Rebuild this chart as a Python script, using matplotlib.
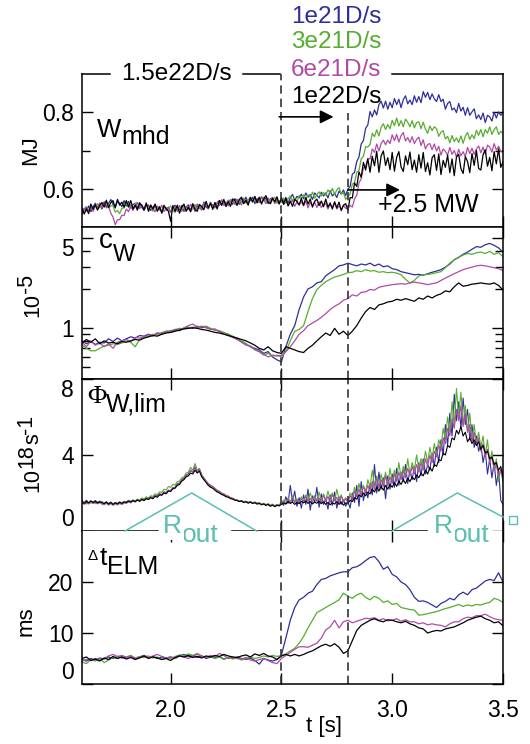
import numpy as np
import matplotlib
matplotlib.use("Agg")
import matplotlib.pyplot as plt
from matplotlib.lines import Line2D
from matplotlib.text import Annotation
from matplotlib.ticker import NullFormatter

plt.rcParams['font.family'] = ['Liberation Sans', 'DejaVu Sans']

# sample times: fine for the noisy traces, coarse for the smoothed ones
t_fine = np.linspace(1.6, 3.5, 191)
t_coarse = np.linspace(1.6, 3.5, 96)

# W_mhd [MJ]
wmhd_blue = [
    0.535, 0.549, 0.542, 0.555, 0.540, 0.553, 0.562, 0.550, 0.561, 0.547,
    0.566, 0.553, 0.562, 0.572, 0.559, 0.553, 0.567, 0.562, 0.553, 0.569,
    0.555, 0.567, 0.549, 0.559, 0.562, 0.549, 0.564, 0.551, 0.543, 0.557,
    0.557, 0.543, 0.551, 0.558, 0.544, 0.552, 0.539, 0.555, 0.544, 0.549,
    0.539, 0.552, 0.557, 0.543, 0.546, 0.556, 0.541, 0.551, 0.558, 0.544,
    0.557, 0.541, 0.553, 0.558, 0.547, 0.565, 0.552, 0.548, 0.562, 0.557,
    0.551, 0.563, 0.569, 0.556, 0.564, 0.553, 0.570, 0.566, 0.559, 0.574,
    0.569, 0.559, 0.574, 0.566, 0.578, 0.563, 0.570, 0.578, 0.561, 0.574,
    0.565, 0.579, 0.569, 0.576, 0.561, 0.573, 0.577, 0.565, 0.570, 0.561,
    0.576, 0.566, 0.577, 0.563, 0.576, 0.585, 0.570, 0.580, 0.576, 0.586,
    0.574, 0.589, 0.578, 0.585, 0.572, 0.589, 0.583, 0.576, 0.591, 0.581,
    0.589, 0.576, 0.595, 0.581, 0.588, 0.577, 0.594, 0.586, 0.597, 0.582,
    0.599, 0.606, 0.638, 0.643, 0.671, 0.683, 0.717, 0.726, 0.758, 0.767,
    0.802, 0.788, 0.806, 0.793, 0.820, 0.829, 0.811, 0.829, 0.808, 0.826,
    0.812, 0.836, 0.820, 0.834, 0.812, 0.833, 0.843, 0.822, 0.832, 0.820,
    0.843, 0.826, 0.841, 0.825, 0.854, 0.839, 0.852, 0.833, 0.848, 0.835,
    0.828, 0.846, 0.828, 0.834, 0.808, 0.823, 0.828, 0.806, 0.811, 0.799,
    0.823, 0.803, 0.813, 0.792, 0.812, 0.792, 0.801, 0.809, 0.783, 0.793,
    0.781, 0.798, 0.773, 0.792, 0.788, 0.777, 0.800, 0.785, 0.801, 0.792,
    0.800]
wmhd_green = [
    0.543, 0.536, 0.552, 0.543, 0.553, 0.542, 0.554, 0.561, 0.550, 0.560,
    0.554, 0.565, 0.550, 0.555, 0.556, 0.539, 0.543, 0.535, 0.549, 0.550,
    0.562, 0.551, 0.558, 0.548, 0.561, 0.564, 0.550, 0.556, 0.545, 0.560,
    0.545, 0.554, 0.541, 0.556, 0.547, 0.553, 0.540, 0.557, 0.544, 0.548,
    0.555, 0.544, 0.538, 0.553, 0.549, 0.541, 0.557, 0.543, 0.553, 0.541,
    0.548, 0.559, 0.545, 0.556, 0.544, 0.561, 0.557, 0.551, 0.565, 0.550,
    0.564, 0.551, 0.563, 0.570, 0.558, 0.556, 0.569, 0.563, 0.575, 0.560,
    0.557, 0.572, 0.564, 0.576, 0.562, 0.571, 0.578, 0.565, 0.573, 0.562,
    0.574, 0.563, 0.578, 0.568, 0.576, 0.561, 0.572, 0.578, 0.562, 0.569,
    0.564, 0.576, 0.562, 0.574, 0.581, 0.568, 0.576, 0.566, 0.582, 0.576,
    0.584, 0.572, 0.584, 0.578, 0.591, 0.575, 0.585, 0.592, 0.581, 0.590,
    0.583, 0.597, 0.588, 0.601, 0.585, 0.597, 0.603, 0.586, 0.590, 0.572,
    0.580, 0.586, 0.612, 0.616, 0.643, 0.648, 0.678, 0.685, 0.710, 0.709,
    0.716, 0.745, 0.736, 0.754, 0.738, 0.761, 0.770, 0.755, 0.768, 0.757,
    0.779, 0.765, 0.785, 0.764, 0.778, 0.762, 0.782, 0.774, 0.762, 0.778,
    0.759, 0.773, 0.775, 0.757, 0.774, 0.756, 0.745, 0.764, 0.752, 0.762,
    0.757, 0.737, 0.748, 0.752, 0.730, 0.737, 0.720, 0.739, 0.723, 0.733,
    0.721, 0.738, 0.719, 0.737, 0.747, 0.729, 0.741, 0.731, 0.753, 0.740,
    0.755, 0.736, 0.755, 0.745, 0.762, 0.742, 0.755, 0.762, 0.742, 0.750,
    0.745]
wmhd_magenta = [
    0.533, 0.547, 0.553, 0.542, 0.550, 0.541, 0.558, 0.551, 0.563, 0.550,
    0.563, 0.550, 0.554, 0.536, 0.526, 0.506, 0.519, 0.519, 0.531, 0.530,
    0.547, 0.540, 0.556, 0.543, 0.555, 0.563, 0.548, 0.557, 0.544, 0.559,
    0.546, 0.558, 0.548, 0.540, 0.555, 0.544, 0.557, 0.540, 0.549, 0.552,
    0.538, 0.550, 0.554, 0.541, 0.556, 0.546, 0.540, 0.554, 0.545, 0.559,
    0.554, 0.543, 0.560, 0.549, 0.545, 0.560, 0.556, 0.547, 0.564, 0.553,
    0.550, 0.565, 0.556, 0.571, 0.557, 0.566, 0.555, 0.572, 0.567, 0.560,
    0.573, 0.564, 0.558, 0.573, 0.569, 0.562, 0.577, 0.565, 0.579, 0.568,
    0.564, 0.578, 0.572, 0.561, 0.575, 0.567, 0.576, 0.561, 0.572, 0.563,
    0.573, 0.560, 0.573, 0.557, 0.564, 0.570, 0.554, 0.565, 0.557, 0.566,
    0.556, 0.568, 0.550, 0.564, 0.556, 0.565, 0.551, 0.566, 0.551, 0.559,
    0.562, 0.547, 0.559, 0.551, 0.563, 0.547, 0.555, 0.545, 0.557, 0.549,
    0.547, 0.557, 0.552, 0.574, 0.583, 0.615, 0.626, 0.654, 0.659, 0.679,
    0.678, 0.704, 0.695, 0.717, 0.699, 0.718, 0.727, 0.715, 0.727, 0.718,
    0.741, 0.726, 0.742, 0.722, 0.739, 0.747, 0.725, 0.734, 0.721, 0.736,
    0.718, 0.729, 0.735, 0.713, 0.728, 0.704, 0.716, 0.718, 0.702, 0.717,
    0.699, 0.711, 0.688, 0.704, 0.698, 0.688, 0.708, 0.690, 0.700, 0.683,
    0.703, 0.686, 0.697, 0.684, 0.708, 0.692, 0.706, 0.690, 0.704, 0.712,
    0.694, 0.709, 0.691, 0.714, 0.709, 0.696, 0.718, 0.701, 0.711, 0.697,
    0.700]
wmhd_black = [
    0.549, 0.534, 0.548, 0.535, 0.560, 0.547, 0.558, 0.544, 0.557, 0.564,
    0.552, 0.570, 0.551, 0.564, 0.569, 0.550, 0.572, 0.557, 0.565, 0.552,
    0.569, 0.553, 0.569, 0.547, 0.557, 0.544, 0.562, 0.557, 0.545, 0.563,
    0.541, 0.557, 0.547, 0.560, 0.541, 0.553, 0.536, 0.556, 0.548, 0.541,
    0.515, 0.556, 0.541, 0.557, 0.536, 0.552, 0.560, 0.541, 0.552, 0.540,
    0.561, 0.546, 0.541, 0.559, 0.554, 0.545, 0.567, 0.550, 0.562, 0.546,
    0.564, 0.547, 0.569, 0.558, 0.572, 0.555, 0.566, 0.554, 0.572, 0.570,
    0.557, 0.572, 0.578, 0.561, 0.570, 0.557, 0.577, 0.566, 0.580, 0.564,
    0.578, 0.560, 0.573, 0.582, 0.565, 0.561, 0.575, 0.566, 0.579, 0.560,
    0.576, 0.559, 0.576, 0.555, 0.568, 0.554, 0.572, 0.567, 0.558, 0.575,
    0.556, 0.577, 0.560, 0.573, 0.552, 0.567, 0.573, 0.556, 0.568, 0.553,
    0.573, 0.552, 0.563, 0.547, 0.566, 0.550, 0.565, 0.543, 0.557, 0.561,
    0.544, 0.577, 0.576, 0.615, 0.606, 0.644, 0.630, 0.669, 0.649, 0.678,
    0.643, 0.685, 0.660, 0.698, 0.643, 0.686, 0.699, 0.661, 0.681, 0.650,
    0.695, 0.646, 0.682, 0.697, 0.657, 0.645, 0.686, 0.663, 0.696, 0.650,
    0.675, 0.643, 0.689, 0.654, 0.695, 0.645, 0.668, 0.636, 0.681, 0.689,
    0.648, 0.691, 0.637, 0.674, 0.656, 0.688, 0.642, 0.678, 0.634, 0.683,
    0.690, 0.653, 0.640, 0.684, 0.671, 0.642, 0.692, 0.661, 0.700, 0.653,
    0.649, 0.689, 0.702, 0.659, 0.682, 0.647, 0.697, 0.665, 0.704, 0.656,
    0.670]

# c_W [1e-5]
cw_blue = [
    0.80, 0.76, 0.79, 0.75, 0.78, 0.77, 0.83, 0.79, 0.84, 0.80,
    0.83, 0.86, 0.84, 0.88, 0.87, 0.90, 0.88, 0.92, 0.91, 0.94,
    0.93, 0.97, 0.96, 1.00, 1.02, 1.00, 1.04, 1.01, 1.03, 0.99,
    0.97, 0.95, 0.91, 0.90, 0.86, 0.84, 0.79, 0.76, 0.72, 0.70,
    0.68, 0.64, 0.66, 0.60, 0.57, 0.55, 0.72, 0.90, 1.05, 1.40,
    1.75, 2.02, 2.10, 2.25, 2.30, 2.55, 2.70, 2.85, 3.05, 3.10,
    3.20, 3.12, 3.05, 3.15, 3.10, 3.20, 3.05, 3.15, 3.00, 3.05,
    2.90, 2.85, 2.75, 2.70, 2.65, 2.60, 2.62, 2.58, 2.65, 2.72,
    2.78, 2.85, 2.98, 3.15, 3.40, 3.55, 3.75, 3.90, 4.10, 4.30,
    4.25, 4.45, 4.55, 4.40, 4.20, 3.90]
cw_green = [
    0.74, 0.70, 0.67, 0.67, 0.70, 0.73, 0.74, 0.76, 0.75, 0.77,
    0.80, 0.78, 0.72, 0.82, 0.85, 0.86, 0.90, 0.89, 0.93, 0.95,
    0.96, 0.98, 1.00, 0.99, 1.01, 1.02, 1.01, 1.03, 1.04, 1.00,
    0.97, 0.96, 0.93, 0.90, 0.87, 0.82, 0.80, 0.76, 0.72, 0.68,
    0.66, 0.62, 0.64, 0.61, 0.62, 0.60, 0.66, 0.80, 0.95, 0.98,
    1.05, 1.35, 1.70, 2.00, 2.15, 2.30, 2.40, 2.50, 2.55, 2.62,
    2.70, 2.72, 2.80, 2.75, 2.85, 2.78, 2.80, 2.72, 2.75, 2.70,
    2.72, 2.68, 2.60, 2.40, 2.25, 2.35, 2.55, 2.60, 2.62, 2.65,
    2.70, 2.75, 2.95, 3.20, 3.40, 3.55, 3.70, 3.80, 3.75, 3.85,
    3.90, 3.80, 3.95, 3.75, 3.85, 3.60]
cw_magenta = [
    0.78, 0.72, 0.80, 0.74, 0.77, 0.72, 0.76, 0.70, 0.78, 0.80,
    0.82, 0.79, 0.85, 0.84, 0.86, 0.89, 0.87, 0.92, 0.90, 0.95,
    0.94, 0.98, 0.97, 1.01, 1.05, 1.08, 1.02, 1.04, 1.01, 0.98,
    0.99, 0.94, 0.91, 0.88, 0.85, 0.82, 0.78, 0.74, 0.73, 0.69,
    0.66, 0.63, 0.60, 0.62, 0.61, 0.62, 0.66, 0.72, 0.80, 0.90,
    0.96, 1.05, 1.10, 1.15, 1.22, 1.30, 1.40, 1.48, 1.55, 1.65,
    1.70, 1.82, 1.78, 1.90, 1.92, 2.00, 1.98, 2.08, 2.12, 2.15,
    2.18, 2.20, 2.22, 2.20, 2.25, 2.28, 2.25, 2.22, 2.18, 2.22,
    2.25, 2.35, 2.45, 2.55, 2.65, 2.75, 2.85, 2.92, 2.98, 3.05,
    3.08, 3.05, 3.00, 2.95, 2.90, 2.80]
cw_black = [
    0.77, 0.82, 0.78, 0.83, 0.76, 0.80, 0.77, 0.78, 0.76, 0.79,
    0.78, 0.80, 0.82, 0.81, 0.84, 0.86, 0.88, 0.87, 0.90, 0.92,
    0.93, 0.95, 0.97, 0.99, 1.00, 1.01, 1.00, 0.98, 0.97, 0.95,
    0.93, 0.92, 0.90, 0.88, 0.86, 0.84, 0.82, 0.80, 0.77, 0.74,
    0.70, 0.68, 0.72, 0.67, 0.65, 0.64, 0.72, 0.70, 0.68, 0.66,
    0.65, 0.70, 0.74, 0.80, 0.86, 0.92, 0.88, 1.00, 0.90, 0.95,
    0.88, 0.95, 1.05, 1.20, 1.35, 1.45, 1.40, 1.52, 1.55, 1.60,
    1.62, 1.68, 1.65, 1.70, 1.66, 1.62, 1.72, 1.68, 1.78, 1.72,
    1.80, 1.85, 1.95, 1.92, 2.10, 2.25, 2.12, 2.15, 2.20, 2.22,
    2.25, 2.22, 2.20, 2.25, 2.15, 1.98]

# Phi_W,lim [1e18 /s]
phi_blue = [
    1.60, 1.50, 1.62, 1.48, 1.58, 1.52, 1.60, 1.50, 1.57, 1.48,
    1.46, 1.54, 1.44, 1.52, 1.42, 1.50, 1.45, 1.53, 1.47, 1.55,
    1.52, 1.60, 1.55, 1.62, 1.57, 1.65, 1.60, 1.70, 1.64, 1.74,
    1.70, 1.80, 1.76, 1.88, 1.84, 1.96, 1.92, 2.06, 2.02, 2.15,
    2.12, 2.28, 2.30, 2.48, 2.52, 2.70, 2.78, 2.95, 3.00, 3.20,
    3.10, 3.35, 3.12, 3.25, 2.95, 2.78, 2.60, 2.45, 2.35, 2.28,
    2.20, 2.10, 2.05, 1.95, 1.92, 1.84, 1.80, 1.74, 1.70, 1.65,
    1.62, 1.58, 1.60, 1.52, 1.56, 1.50, 1.54, 1.48, 1.52, 1.45,
    1.48, 1.40, 1.45, 1.38, 1.42, 1.34, 1.40, 1.32, 1.38, 1.36,
    1.50, 1.35, 1.80, 1.45, 2.40, 1.55, 2.10, 1.30, 1.75, 1.20,
    1.90, 1.40, 2.20, 1.10, 1.85, 1.50, 2.30, 1.25, 1.95, 1.40,
    1.70, 1.15, 1.90, 1.35, 2.05, 1.20, 1.80, 1.40, 1.65, 1.30,
    1.55, 1.20, 2.00, 1.50, 2.40, 1.30, 2.60, 1.60, 2.20, 1.75,
    2.50, 1.90, 3.50, 2.00, 3.10, 2.20, 2.80, 1.70, 2.90, 2.20,
    3.00, 2.30, 3.30, 2.40, 3.10, 2.60, 3.50, 2.50, 3.20, 2.70,
    3.40, 2.60, 3.60, 2.90, 3.80, 3.00, 3.50, 3.20, 4.10, 3.40,
    4.40, 3.60, 4.80, 4.00, 5.60, 4.50, 6.20, 5.00, 7.20, 5.80,
    6.80, 5.40, 7.00, 5.60, 6.40, 4.80, 5.60, 4.40, 5.00, 4.20,
    4.60, 3.60, 4.20, 3.00, 3.80, 2.80, 3.60, 2.40, 3.20, 1.60,
    1.40]
phi_green = [
    1.45, 1.55, 1.42, 1.52, 1.46, 1.56, 1.44, 1.54, 1.47, 1.57,
    1.43, 1.52, 1.40, 1.50, 1.42, 1.49, 1.44, 1.52, 1.46, 1.55,
    1.50, 1.62, 1.54, 1.64, 1.58, 1.68, 1.62, 1.74, 1.68, 1.80,
    1.74, 1.86, 1.82, 1.96, 1.92, 2.06, 2.04, 2.20, 2.16, 2.34,
    2.30, 2.45, 2.42, 2.60, 2.62, 2.80, 2.85, 3.05, 3.10, 3.35,
    3.20, 3.55, 3.20, 3.30, 2.95, 2.80, 2.62, 2.48, 2.38, 2.30,
    2.22, 2.12, 2.08, 1.98, 1.94, 1.86, 1.82, 1.76, 1.72, 1.66,
    1.64, 1.58, 1.60, 1.53, 1.57, 1.50, 1.55, 1.48, 1.53, 1.46,
    1.50, 1.42, 1.46, 1.38, 1.44, 1.35, 1.41, 1.33, 1.40, 1.38,
    1.48, 1.62, 1.45, 1.75, 1.50, 1.85, 1.55, 1.70, 1.48, 1.80,
    1.55, 1.90, 1.60, 2.00, 1.65, 1.85, 1.55, 2.05, 1.60, 1.95,
    1.62, 2.10, 1.70, 2.00, 1.58, 2.20, 1.65, 1.90, 1.55, 1.75,
    1.60, 2.00, 1.75, 2.30, 1.85, 2.50, 1.95, 2.40, 2.05, 2.70,
    2.30, 3.20, 2.40, 2.90, 2.20, 3.00, 2.50, 3.10, 2.40, 3.30,
    2.60, 3.20, 2.70, 3.60, 2.80, 3.40, 2.90, 3.80, 3.00, 3.60,
    3.20, 4.00, 3.30, 3.80, 3.40, 4.20, 3.60, 4.40, 3.80, 4.60,
    4.00, 4.80, 4.40, 5.40, 4.80, 6.00, 5.20, 6.80, 5.60, 7.50,
    6.00, 7.30, 5.60, 6.60, 5.20, 6.20, 4.80, 5.60, 4.60, 5.20,
    4.40, 5.00, 4.00, 4.80, 3.60, 4.20, 3.20, 3.80, 2.60, 3.30,
    2.90]
phi_magenta = [
    1.50, 1.40, 1.52, 1.42, 1.55, 1.44, 1.53, 1.43, 1.51, 1.41,
    1.38, 1.46, 1.36, 1.44, 1.35, 1.43, 1.37, 1.45, 1.39, 1.47,
    1.45, 1.53, 1.48, 1.58, 1.52, 1.62, 1.56, 1.66, 1.60, 1.72,
    1.68, 1.78, 1.74, 1.86, 1.82, 1.94, 1.90, 2.04, 2.00, 2.14,
    2.12, 2.26, 2.30, 2.45, 2.50, 2.68, 2.74, 2.92, 2.98, 3.18,
    3.10, 3.40, 3.10, 3.25, 2.92, 2.76, 2.62, 2.50, 2.42, 2.35,
    2.25, 2.15, 2.10, 2.00, 1.96, 1.88, 1.84, 1.76, 1.72, 1.66,
    1.62, 1.55, 1.58, 1.50, 1.54, 1.46, 1.52, 1.44, 1.50, 1.42,
    1.46, 1.38, 1.43, 1.35, 1.40, 1.32, 1.37, 1.30, 1.36, 1.34,
    1.45, 1.55, 1.42, 1.68, 1.48, 1.75, 1.50, 1.62, 1.46, 1.70,
    1.52, 1.80, 1.55, 1.72, 1.48, 1.85, 1.58, 1.75, 1.50, 1.90,
    1.55, 1.82, 1.50, 1.95, 1.60, 1.78, 1.45, 1.85, 1.52, 1.70,
    1.50, 1.85, 1.65, 2.10, 1.80, 2.20, 1.90, 2.35, 2.00, 2.40,
    2.10, 2.60, 2.20, 2.80, 2.30, 2.70, 2.35, 2.90, 2.40, 2.85,
    2.50, 3.00, 2.60, 3.10, 2.70, 3.20, 2.80, 3.30, 2.90, 3.40,
    3.00, 3.50, 3.10, 3.60, 3.20, 3.80, 3.40, 4.00, 3.60, 4.20,
    3.90, 4.50, 4.20, 4.90, 4.60, 5.40, 5.00, 5.90, 5.40, 6.40,
    5.80, 6.60, 5.50, 6.20, 5.20, 5.60, 4.70, 5.20, 4.50, 4.90,
    4.20, 4.60, 3.90, 4.30, 3.60, 3.90, 3.20, 3.50, 2.90, 3.20,
    2.60]
phi_black = [
    1.52, 1.45, 1.55, 1.48, 1.58, 1.50, 1.56, 1.47, 1.54, 1.49,
    1.44, 1.52, 1.42, 1.50, 1.40, 1.48, 1.43, 1.51, 1.45, 1.53,
    1.50, 1.58, 1.52, 1.60, 1.55, 1.63, 1.57, 1.66, 1.60, 1.70,
    1.65, 1.75, 1.70, 1.82, 1.78, 1.90, 1.88, 2.00, 1.96, 2.10,
    2.08, 2.22, 2.25, 2.40, 2.45, 2.62, 2.70, 2.85, 2.90, 3.05,
    3.00, 3.20, 3.05, 3.15, 2.85, 2.70, 2.55, 2.40, 2.30, 2.25,
    2.15, 2.05, 2.00, 1.92, 1.88, 1.80, 1.78, 1.70, 1.68, 1.62,
    1.60, 1.55, 1.58, 1.50, 1.54, 1.47, 1.52, 1.45, 1.49, 1.42,
    1.45, 1.38, 1.42, 1.35, 1.40, 1.30, 1.36, 1.28, 1.35, 1.32,
    1.40, 1.48, 1.42, 1.55, 1.45, 1.52, 1.40, 1.50, 1.44, 1.56,
    1.48, 1.58, 1.45, 1.55, 1.42, 1.52, 1.46, 1.57, 1.44, 1.53,
    1.40, 1.50, 1.38, 1.48, 1.42, 1.55, 1.40, 1.52, 1.36, 1.48,
    1.45, 1.62, 1.55, 1.75, 1.68, 1.90, 1.80, 2.00, 1.85, 2.05,
    1.95, 2.20, 2.05, 2.30, 2.10, 2.35, 2.15, 2.40, 2.20, 2.45,
    2.30, 2.55, 2.35, 2.62, 2.45, 2.70, 2.50, 2.78, 2.60, 2.85,
    2.70, 2.95, 2.80, 3.05, 2.90, 3.20, 3.00, 3.35, 3.15, 3.50,
    3.40, 3.75, 3.70, 4.10, 4.00, 4.50, 4.40, 4.90, 4.80, 5.30,
    5.10, 5.50, 5.00, 5.20, 4.70, 4.90, 4.60, 4.80, 4.50, 4.70,
    4.30, 4.50, 4.10, 4.20, 3.80, 3.90, 3.50, 3.60, 3.20, 3.40,
    2.80]

# Delta t_ELM [ms]
dt_blue = [
    4.8, 4.5, 5.0, 4.7, 5.1, 4.9, 5.3, 5.0, 5.4, 5.1,
    5.2, 5.5, 5.0, 5.3, 5.6, 5.2, 5.4, 5.0, 5.3, 5.1,
    5.3, 5.0, 5.5, 5.8, 5.4, 5.6, 5.2, 5.5, 5.0, 5.3,
    5.1, 5.4, 4.9, 5.2, 5.0, 5.3, 5.0, 4.8, 5.1, 4.6,
    3.9, 5.0, 4.7, 4.5, 4.8, 5.7, 9.0, 12.5, 15.0, 16.5,
    17.0, 17.8, 18.2, 19.5, 20.5, 20.7, 21.2, 21.5, 21.8, 22.0,
    22.0, 22.8, 23.0, 23.5, 24.2, 24.8, 25.0, 24.0, 22.5, 23.0,
    21.5, 21.0, 20.0, 19.5, 18.5, 17.0, 16.2, 16.3, 16.0, 15.5,
    15.0, 15.8, 16.2, 16.8, 16.5, 17.5, 18.0, 17.5, 18.5, 18.8,
    19.5, 20.2, 20.5, 20.3, 21.8, 20.0]
dt_green = [
    4.3, 4.0, 4.8, 4.5, 5.0, 4.2, 4.7, 5.2, 5.0, 5.5,
    5.3, 5.6, 5.1, 5.4, 5.2, 5.5, 5.1, 5.3, 4.8, 5.2,
    5.0, 5.4, 5.7, 5.5, 5.9, 5.6, 6.0, 5.5, 5.2, 5.4,
    5.0, 5.3, 4.8, 5.2, 4.9, 5.1, 4.7, 5.0, 5.3, 5.0,
    5.2, 5.5, 5.3, 5.6, 5.4, 5.6, 5.9, 6.5, 7.0, 8.0,
    9.3, 11.0, 12.5, 14.0, 14.5, 15.0, 15.5, 16.0, 16.5, 17.8,
    17.2, 16.8, 17.5, 17.8, 17.0, 16.5, 17.2, 16.8, 16.0, 16.3,
    15.6, 15.8, 15.0, 14.8, 14.6, 14.5, 13.5, 13.6, 13.8, 14.0,
    14.2, 14.5, 14.8, 15.0, 15.3, 15.6, 15.2, 15.5, 15.3, 15.6,
    15.5, 15.8, 16.0, 16.8, 16.5, 16.0]
dt_magenta = [
    4.5, 4.8, 4.6, 5.0, 4.7, 5.0, 5.5, 5.8, 5.4, 5.6,
    5.2, 5.5, 5.0, 5.3, 5.6, 5.2, 5.5, 5.8, 5.4, 5.1,
    5.3, 5.0, 5.6, 5.3, 5.0, 5.4, 5.8, 5.5, 5.2, 5.6,
    5.3, 6.0, 5.6, 5.0, 5.3, 5.0, 4.9, 5.2, 4.7, 4.5,
    4.8, 5.0, 4.6, 4.2, 4.0, 5.0, 5.6, 6.2, 6.8, 7.3,
    7.3, 7.2, 7.6, 8.0, 9.0, 10.6, 11.2, 12.5, 11.0, 12.2,
    12.5, 12.0, 12.3, 12.6, 12.9, 12.8, 13.0, 12.5, 12.8, 12.4,
    12.5, 12.8, 12.3, 12.6, 12.2, 12.2, 11.8, 12.0, 11.6, 11.8,
    11.6, 11.5, 11.2, 11.8, 12.2, 12.2, 12.8, 13.1, 13.0, 13.4,
    13.4, 13.7, 13.2, 12.8, 12.6, 12.5]
dt_black = [
    5.0, 5.3, 4.6, 4.9, 4.5, 5.1, 4.8, 5.4, 5.0, 5.3,
    4.9, 5.2, 4.8, 5.1, 5.5, 5.0, 5.3, 5.1, 4.8, 5.0,
    4.6, 5.2, 5.5, 5.3, 5.6, 5.2, 5.4, 5.1, 5.5, 5.3,
    5.6, 5.4, 5.8, 5.5, 5.3, 5.2, 5.5, 5.7, 5.3, 5.9,
    5.6, 6.0, 5.5, 5.3, 4.8, 5.5, 5.8, 5.5, 5.8, 5.5,
    5.8, 6.2, 6.5, 7.0, 7.5, 7.8, 7.4, 7.9, 7.2, 6.0,
    6.5, 8.5, 10.5, 11.5, 12.0, 12.5, 12.8, 12.4, 12.2, 12.6,
    12.5, 12.2, 12.0, 12.3, 11.8, 11.5, 11.0, 10.8, 10.0, 10.3,
    10.5, 10.4, 10.8, 11.0, 11.2, 11.6, 12.0, 12.5, 12.8, 13.1,
    13.3, 12.8, 12.5, 12.0, 12.2, 11.4]

colors = ['#2e2e9c', '#56ad2e', '#b04aa6', 'black']
teal = '#5cbdb1'
rates = ['1e21D/s', '3e21D/s', '6e21D/s', '1e22D/s']

fig = plt.figure(figsize=(5.3, 7.44), dpi=100)
L, W = 82 / 530, 421 / 530


def ax_at(top_px, bot_px, sharex=None):
    return fig.add_axes([L, 1 - bot_px / 744, W, (bot_px - top_px) / 744], sharex=sharex)


def attach(parent, s, size, dx, dy, corner=(1, 0), ha='left', va='bottom', **kw):
    # text glued to the end of another text, shifted by (dx, dy) points
    a = Annotation(s, xy=corner, xycoords=parent, xytext=(dx, dy), textcoords='offset points',
                   fontsize=size, ha=ha, va=va, annotation_clip=False, **kw)
    fig.add_artist(a)
    return a


ax1 = ax_at(74, 227)
ax2 = ax_at(227, 379, ax1)
ax3 = ax_at(379, 531, ax1)
ax4 = ax_at(531, 684, ax1)
axes = [ax1, ax2, ax3, ax4]

for ys, c in zip([wmhd_blue, wmhd_green, wmhd_magenta, wmhd_black], colors):
    ax1.plot(t_fine, ys, color=c, lw=0.9)
for ys, c in zip([cw_blue, cw_green, cw_magenta, cw_black], colors):
    ax2.plot(t_coarse, ys, color=c, lw=0.9)
for ys, c in zip([phi_blue, phi_green, phi_magenta, phi_black], colors):
    ax3.plot(t_fine, ys, color=c, lw=0.8)
for ys, c in zip([dt_blue, dt_green, dt_magenta, dt_black], colors):
    ax4.plot(t_coarse, ys, color=c, lw=0.9)

ax1.set_xlim(1.6, 3.5)
ax1.set_ylim(0.5, 0.9)
ax2.set_yscale('log')
ax2.set_ylim(0.405, 6.1)
ax3.set_ylim(0, 8)
ax4.set_ylim(0, 30)

ax1.set_yticks([0.6, 0.8], ['0.6', '0.8'])
ax1.set_yticks([0.7], minor=True)
ax2.set_yticks([1, 5], ['1', '5'])
ax2.set_yticks([0.5, 0.6, 0.7, 0.8, 0.9, 2, 3, 4], minor=True)
ax2.yaxis.set_minor_formatter(NullFormatter())
ax3.set_yticks([0, 4, 8], ['0', '4', '8'])
ax4.set_yticks([0, 10, 20], ['0', '10', '20'])
ax4.set_xticks([2.0, 2.5, 3.0, 3.5], ['2.0', '2.5', '3.0', '3.5'])

for ax in axes:
    ax.tick_params(which='both', direction='in', top=True, right=True,
                   width=1, labelsize=16.5, pad=6)
    ax.tick_params(which='major', length=8)
    ax.tick_params(which='minor', length=6)
    for s in ax.spines.values():
        s.set_linewidth(1.1)
    if ax is not ax4:
        ax.tick_params(axis='x', labelbottom=False)
ax1.tick_params(axis='x', top=False)
ax4.tick_params(axis='x', pad=11)
ax4.set_xlabel('t [s]', fontsize=16)
ax4.xaxis.set_label_coords(0.576, -0.21)

# keep edge labels inside the frame
ax2.get_yticklabels()[1].set_va('top')
ax3.get_yticklabels()[0].set_va('bottom')
ax3.get_yticklabels()[2].set_va('top')
ax4.get_yticklabels()[0].set_va('bottom')

# broken frame lines around the annotations
ax1.spines['top'].set_visible(False)
for x0, x1 in [(1.6, 1.726), (2.325, 2.492), (3.001, 3.5)]:
    ax1.plot([x0, x1], [0.9, 0.9], color='black', lw=1.1, clip_on=False)
ax3.spines['bottom'].set_visible(False)
ax4.spines['top'].set_visible(False)
for x0, x1 in [(1.6, 1.942), (2.276, 3.155)]:
    ax3.plot([x0, x1], [0, 0], color='black', lw=1.1, clip_on=False)

# dashed markers
dash = dict(color='#333333', lw=1.2, linestyle=(0, (5, 3)))
ax1.plot([2.5, 2.5], [0.5, 0.9], **dash)
ax1.plot([2.8, 2.8], [0.5, 0.797], **dash)
for ax in axes[1:]:
    ax.axvline(2.5, **dash)
    ax.axvline(2.8, **dash)

# panel names with large subscripts
w_main = ax1.text(0.036, 0.712, 'W', transform=ax1.transAxes, fontsize=18.5, va='top')
attach(w_main, 'mhd', 18, 0, -5)
c_main = ax2.text(0.04, 0.995, 'c', transform=ax2.transAxes, fontsize=20, va='top')
attach(c_main, 'W', 17, 0, -9)
phi_main = ax3.text(0.012, 0.954, 'Φ', transform=ax3.transAxes, fontsize=19,
                    va='top', family='Liberation Serif')
attach(phi_main, 'W,lim', 18, 0, -6)
ax4.text(0.012, 0.885, 'Δ', transform=ax4.transAxes, fontsize=11, va='top')
t_main = ax4.text(0.043, 0.90, 't', transform=ax4.transAxes, fontsize=19, va='top')
attach(t_main, 'ELM', 18, 0, -6)

# axis units, rotated
fig.text(31 / 530, 1 - 150 / 744, 'MJ', rotation=90, ha='center', va='center', fontsize=16)
fig.text(26 / 530, 1 - 621 / 744, 'ms', rotation=90, ha='center', va='center', fontsize=16)
u10 = fig.text(43 / 530, 1 - 317 / 744, '10', rotation=90, ha='right', va='bottom', fontsize=15.5)
attach(u10, '-5', 15.5, -4, 0, corner=(1, 1), ha='right', rotation=90)
v10 = fig.text(43 / 530, 1 - 492 / 744, '10', rotation=90, ha='right', va='bottom', fontsize=15.5)
v18 = attach(v10, '18', 15.5, -4, 0, corner=(1, 1), ha='right', rotation=90)
vs = attach(v18, 's', 15.5, 4, 0, corner=(1, 1), ha='right', rotation=90)
attach(vs, '-1', 15.5, -4, 0, corner=(1, 1), ha='right', rotation=90)

# fuelling rates and heating step
fig.text(2.028, 0.9, '1.5e22D/s', transform=ax1.transData, ha='center', va='center', fontsize=17.5)
for lab, c, y in zip(rates, colors, [1.05, 0.984, 0.911, 0.839]):
    fig.text(2.95, y, lab, transform=ax1.transData, ha='right', va='center', fontsize=17.5, color=c)
ax1.annotate('', xy=(2.735, 0.788), xytext=(2.49, 0.788),
             arrowprops=dict(arrowstyle='-|>', color='black', lw=1.2, mutation_scale=20, shrinkA=0, shrinkB=0))
ax1.annotate('', xy=(3.035, 0.597), xytext=(2.8, 0.597),
             arrowprops=dict(arrowstyle='-|>', color='black', lw=1.2, mutation_scale=20, shrinkA=0, shrinkB=0))
ax1.text(3.163, 0.558, '+2.5 MW', ha='center', va='center', fontsize=18)

# R_out sketches
for xs, ys in [([1.794, 2.095, 2.388], [0, 2.0, 0]), ([3.0, 3.294, 3.5], [0, 2.0, 0.74])]:
    fig.add_artist(Line2D(xs, ys, color=teal, lw=1.1, transform=ax3.transData, zorder=6))
fig.add_artist(Line2D([3.546], [0.6], marker='s', ms=6, mfc='white', mec=teal, mew=1,
                      transform=ax3.transData, zorder=6))
white = dict(boxstyle='square,pad=0.08', fc='white', ec='none')
for x in [1.965, 3.19]:
    r_main = fig.text(x, -0.1, 'R', transform=ax3.transData, ha='left', va='baseline',
                      fontsize=19, color=teal, zorder=5, bbox=white)
    sub = attach(r_main, 'out', 19, 0, -6.5, color=teal, bbox=white)
    sub.set_zorder(5)

fig.savefig('out.png', dpi=100)
